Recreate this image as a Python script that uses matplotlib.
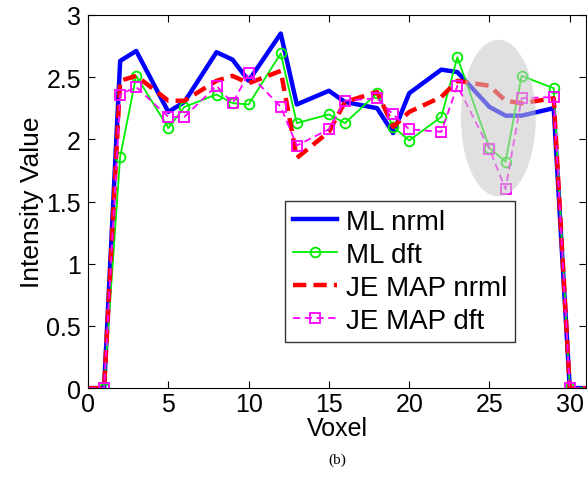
import matplotlib.pyplot as plt
from matplotlib.patches import Ellipse

plt.rcParams['font.family'] = ['Liberation Sans', 'DejaVu Sans']

# voxel positions and intensity values
voxel = [0, 1, 2, 3, 5, 6, 8, 9, 10, 12, 13, 15, 16, 18, 19, 20, 22, 23, 25, 26, 27, 29, 30, 31]
ml_nrml = [0, 0, 2.63, 2.71, 2.22, 2.30, 2.70, 2.64, 2.47, 2.85, 2.28, 2.39, 2.30, 2.25,
           2.05, 2.37, 2.56, 2.54, 2.26, 2.19, 2.19, 2.25, 0, 0]
ml_dft = [0, 0, 1.86, 2.51, 2.09, 2.26, 2.36, 2.29, 2.28, 2.69, 2.13, 2.20, 2.13, 2.37,
          2.10, 1.99, 2.18, 2.66, 1.93, 1.82, 2.51, 2.41, 0, 0]
je_nrml = [0, 0, 2.47, 2.51, 2.31, 2.31, 2.47, 2.51, 2.45, 2.55, 1.85, 2.06, 2.30, 2.38,
           2.10, 2.22, 2.34, 2.47, 2.43, 2.31, 2.29, 2.33, 0, 0]
je_dft = [0, 0, 2.36, 2.42, 2.18, 2.18, 2.43, 2.29, 2.53, 2.26, 1.95, 2.08, 2.31, 2.33,
          2.20, 2.08, 2.06, 2.43, 1.92, 1.60, 2.33, 2.34, 0, 0]

mk = list(range(1, len(voxel) - 1))

fig = plt.figure(figsize=(5.87, 4.81), dpi=100)
ax = fig.add_axes([0.150, 0.191, 0.848, 0.776])

ax.plot(voxel, ml_nrml, color='#0000ff', lw=3.2, label='ML nrml')
ax.plot(voxel, ml_dft, color='#00ee00', lw=1.3, marker='o', ms=7, mfc='none',
        mew=1.3, markevery=mk, label='ML dft')
ax.plot(voxel, je_nrml, color='#ff0000', lw=3.2, ls=(0, (3, 1.6)), label='JE MAP nrml')
ax.plot(voxel, je_dft, color='#ff00ff', lw=1.3, ls=(0, (4, 2.5)), marker='s', ms=7,
        mfc='none', mew=1.3, markevery=mk, label='JE MAP dft')

# shaded region around the dip
ell = Ellipse((25.55, 2.17), 4.66, 1.26, facecolor='#c8c8c8', edgecolor='none',
              alpha=0.55, hatch='....', zorder=5)
ax.add_patch(ell)

ax.set_xlim(0, 31)
ax.set_ylim(0, 3)
ax.set_xticks([0, 5, 10, 15, 20, 25, 30])
ax.set_yticks([0, 0.5, 1, 1.5, 2, 2.5, 3])
ax.set_yticklabels(['0', '0.5', '1', '1.5', '2', '2.5', '3'])
ax.tick_params(direction='in', top=True, right=True, labelsize=18, length=5)
ax.tick_params(axis='x', pad=3)
ax.tick_params(axis='y', pad=5)
ax.set_xlabel('Voxel', fontsize=18, labelpad=0)
ax.set_ylabel('Intensity Value', fontsize=19, labelpad=2)

leg = ax.legend(loc='lower left', bbox_to_anchor=(0.395, 0.123), fontsize=20,
                frameon=True, fancybox=False, edgecolor='black', handlelength=1.6,
                labelspacing=0.25, borderpad=0.3, handletextpad=0.3, borderaxespad=0)
leg.get_frame().set_linewidth(1.0)

fig.text(0.575, 0.035, '(b)', fontsize=11, family='Liberation Serif', ha='center')

fig.savefig('out.png', dpi=100)
